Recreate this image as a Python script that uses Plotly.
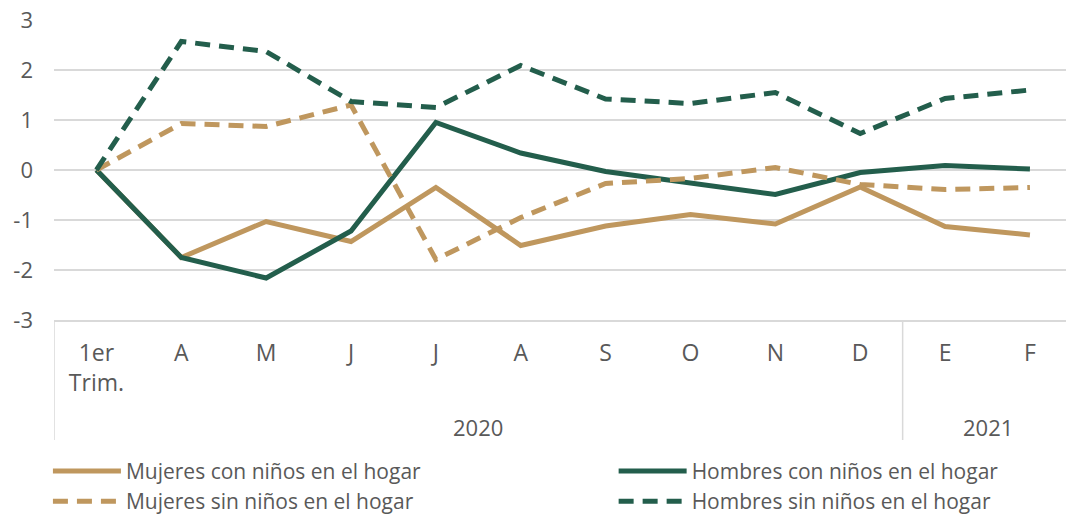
import plotly.graph_objects as go

# Category labels along the x axis (months since the first quarter of 2020)
months = ["1er<br>Trim.", "A", "M", "J", "J", "A", "S", "O", "N", "D", "E", "F"]
years = ["2020", "2021"]
year_span = [(0, 9), (10, 11)]  # index range of each year group

mujeres_con = [0, -1.75, -1.03, -1.43, -0.35, -1.51, -1.12, -0.89, -1.08, -0.34, -1.13, -1.30]
hombres_con = [0, -1.75, -2.16, -1.22, 0.95, 0.34, -0.03, -0.26, -0.49, -0.05, 0.09, 0.02]
mujeres_sin = [0, 0.93, 0.87, 1.30, -1.79, -0.95, -0.27, -0.17, 0.05, -0.29, -0.39, -0.35]
hombres_sin = [0, 2.57, 2.37, 1.37, 1.25, 2.09, 1.42, 1.33, 1.55, 0.73, 1.43, 1.60]

y_ticks = [-3, -2, -1, 0, 1, 2, 3]

TAN = "#BF975E"
GREEN = "#235E4C"
GRID = "#D9D9D9"
TEXT = "#595959"
FONT = "Open Sans"

x = list(range(len(months)))

# women in the left legend column, men in the right one
series = [
    ("Mujeres con niños en el hogar", mujeres_con, TAN, "solid", "legend"),
    ("Hombres con niños en el hogar", hombres_con, GREEN, "solid", "legend2"),
    ("Mujeres sin niños en el hogar", mujeres_sin, TAN, "15px,9px", "legend"),
    ("Hombres sin niños en el hogar", hombres_sin, GREEN, "15px,9px", "legend2"),
]

fig = go.Figure()
for name, vals, color, dash, leg in series:
    fig.add_trace(go.Scatter(
        x=x, y=vals, name=name, mode="lines", legend=leg,
        line=dict(color=color, width=5, dash=dash),
    ))

# Year group labels and dividers under the month labels
shapes = []
annotations = []
for yr, (a, b) in zip(years, year_span):
    annotations.append(dict(
        x=(a + b) / 2, y=-0.357, xref="x", yref="paper", text=yr,
        showarrow=False, font=dict(family=FONT, size=22, color=TEXT),
        yanchor="middle",
    ))
for pos in [-0.5, 9.5]:
    shapes.append(dict(
        type="line", xref="x", yref="paper", x0=pos, x1=pos, y0=0, y1=-0.4,
        line=dict(color=GRID, width=1.5),
    ))

legend_style = dict(
    orientation="v", xanchor="left", yref="container", y=0.128, yanchor="top",
    font=dict(family=FONT, size=21, color=TEXT),
    itemwidth=68, tracegroupgap=0, bgcolor="rgba(0,0,0,0)",
)

fig.update_layout(
    width=1066, height=517,
    margin=dict(l=54, r=0, t=20, b=197),
    plot_bgcolor="white", paper_bgcolor="white",
    font=dict(family=FONT, size=22, color=TEXT),
    showlegend=True,
    legend=dict(x=-0.006, **legend_style),
    legend2=dict(x=0.553, **legend_style),
    shapes=shapes,
    annotations=annotations,
    xaxis=dict(
        range=[-0.5, 11.425], tickvals=x, ticktext=months,
        showgrid=False, zeroline=False, showline=True, linecolor=GRID, linewidth=1.5,
        ticks="", ticklabelstandoff=12,
        tickfont=dict(family=FONT, size=23, color=TEXT),
        fixedrange=True,
    ),
    yaxis=dict(
        range=[-3, 3], tickvals=y_ticks, ticktext=[str(v) for v in y_ticks],
        showgrid=True, gridcolor=GRID, gridwidth=1.5,
        zeroline=True, zerolinecolor=GRID, zerolinewidth=1.5,
        ticks="", ticklabelstandoff=20,
        tickfont=dict(family=FONT, size=22, color=TEXT),
        fixedrange=True,
    ),
)

fig.write_html("out.html")
